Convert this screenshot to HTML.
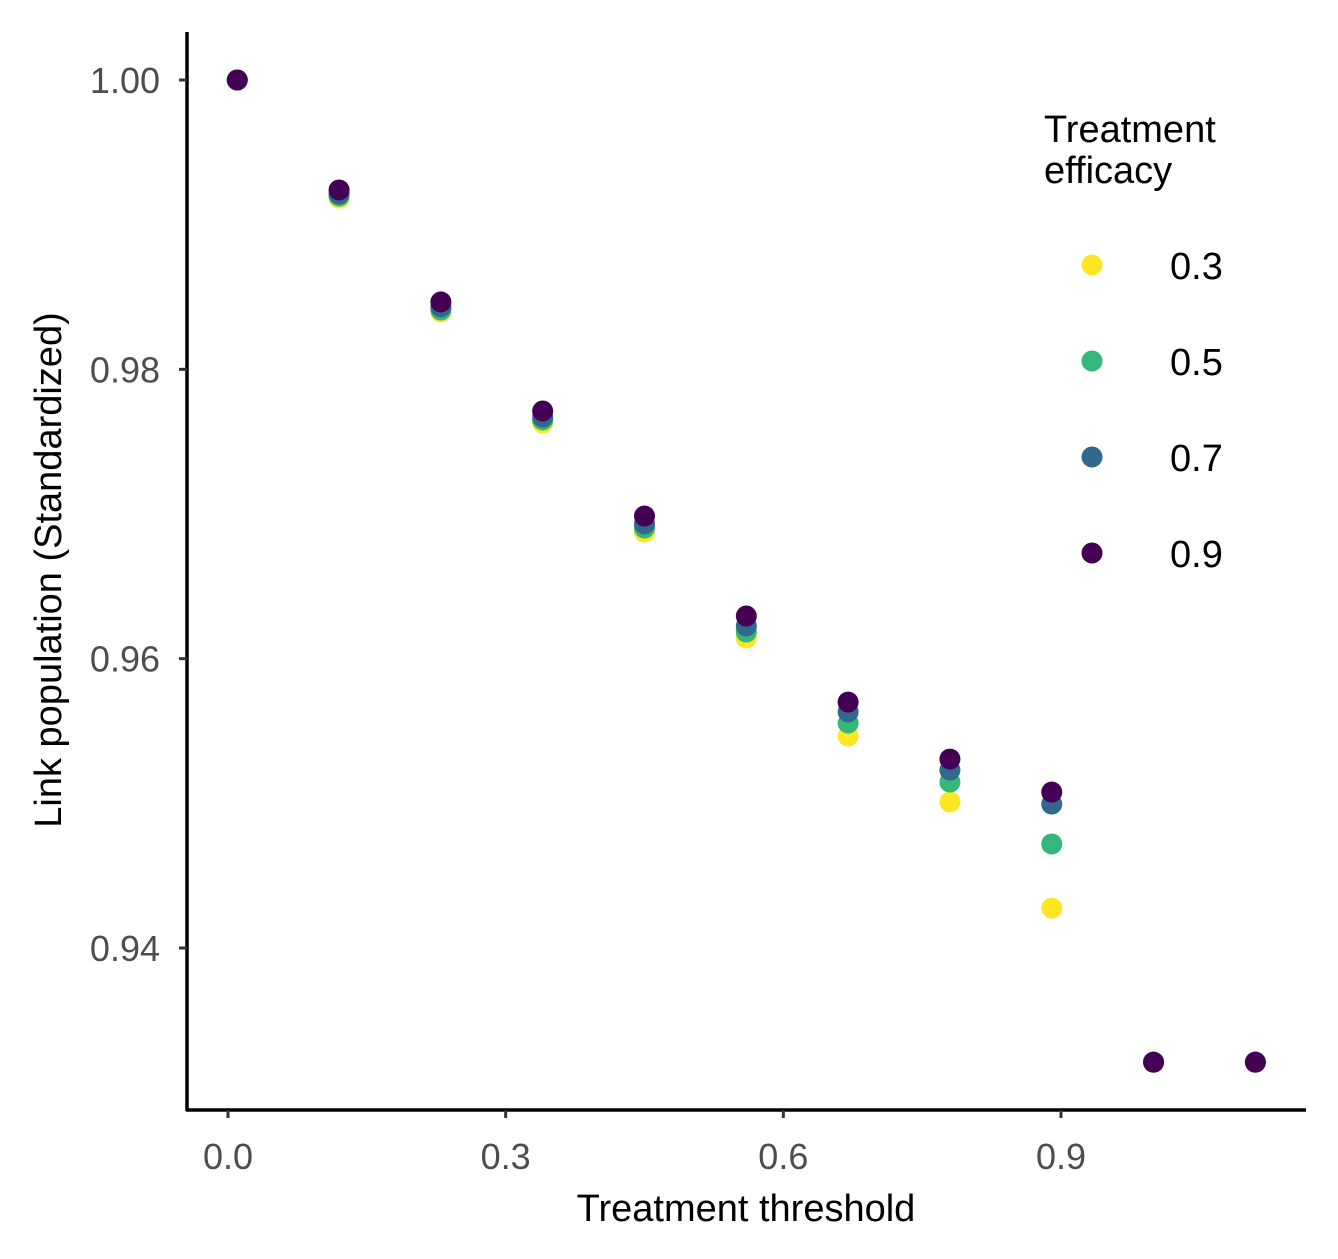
<!DOCTYPE html>
<html><head><meta charset="utf-8"><style>
body{margin:0;background:#fff}
svg{display:block;font-family:"Liberation Sans",Arial,sans-serif}
</style></head><body>
<svg id="chart" width="1338" height="1259" viewBox="0 0 1338 1259">
<g id="axes"></g><g id="points"></g><g id="legend"></g>
</svg>
<script>
const xVals=[0.01,0.12,0.23,0.34,0.45,0.56,0.67,0.78,0.89,1.0,1.11];
const eff03=[1,0.99184,0.98396,0.97629,0.96875,0.96143,0.95465,0.95009,0.94276,0.93211,0.93211];
const eff05=[1,0.99198,0.98410,0.97650,0.96903,0.96184,0.95555,0.95147,0.94719,0.93211,0.93211];
const eff07=[1,0.99212,0.98431,0.97670,0.96931,0.96226,0.95632,0.95230,0.94995,0.93211,0.93211];
const eff09=[1,0.99240,0.98466,0.97712,0.96986,0.96295,0.95700,0.95306,0.95078,0.93211,0.93211];
const seriesLabels=["0.3","0.5","0.7","0.9"];
const xTicks=[0,0.3,0.6,0.9];
const xTickLabels=["0.0","0.3","0.6","0.9"];
const yTicks=[0.94,0.96,0.98,1.00];
const yTickLabels=["0.94","0.96","0.98","1.00"];
const colors=["#FDE725","#35B779","#31688E","#440154"];
const series=[eff03,eff05,eff07,eff09];

const NS="http://www.w3.org/2000/svg";
const X=v=>228+v*(1061-228)/0.9;
const Y=v=>80+(1-v)*(948-80)/0.06;
function mk(tag,attrs,parent,text){const e=document.createElementNS(NS,tag);for(const k in attrs)e.setAttribute(k,attrs[k]);if(text!==undefined)e.textContent=text;parent.appendChild(e);return e;}
const axes=document.getElementById('axes'),pts=document.getElementById('points'),leg=document.getElementById('legend');

let l=mk('line',{x1:187,y1:32,x2:187,y2:1111,stroke:'#000','stroke-width':3.5},axes);


l=mk('line',{x1:186,y1:1110,x2:1306,y2:1110,stroke:'#000','stroke-width':3.5},axes);


xTicks.forEach((t,i)=>{
  const x=X(t);
  let tk=mk('line',{x1:x,y1:1110,x2:x,y2:1118,stroke:'#333','stroke-width':3},axes);
  
  
  let tx=mk('text',{x:x,y:1169,'text-anchor':'middle','font-size':36,fill:'#4d4d4d'},axes,xTickLabels[i]);
  
  
});
yTicks.forEach((t,i)=>{
  const y=Y(t);
  let tk=mk('line',{x1:179,y1:y,x2:187,y2:y,stroke:'#333','stroke-width':3},axes);
  
  
  let tx=mk('text',{x:160,y:y+13,'text-anchor':'end','font-size':36,fill:'#4d4d4d'},axes,yTickLabels[i]);
  
  
});
let xt=mk('text',{x:746,y:1221,'text-anchor':'middle','font-size':38,fill:'#000'},axes,'Treatment threshold');


let yt=mk('text',{x:0,y:0,transform:'translate(61,570) rotate(-90)','text-anchor':'middle','font-size':38,fill:'#000'},axes,'Link population (Standardized)');



series.forEach((s,si)=>{
  s.forEach((v,i)=>{
    const c=mk('circle',{cx:X(xVals[i]),cy:Y(v),r:10.5,fill:colors[si]},pts);
    
    
  });
});

let lt=mk('text',{x:1044,y:142,'font-size':38,fill:'#000'},leg);


mk('tspan',{x:1044,dy:0},lt,'Treatment');
mk('tspan',{x:1044,dy:41},lt,'efficacy');
seriesLabels.forEach((lab,i)=>{
  const y=265+i*96;
  const g=mk('g',{},leg);
  
  
  mk('circle',{cx:1092,cy:y,r:10.5,fill:colors[i]},g);
  mk('text',{x:1170,y:y+14,'font-size':38,fill:'#000'},g,lab);
});
</script>
</body></html>
